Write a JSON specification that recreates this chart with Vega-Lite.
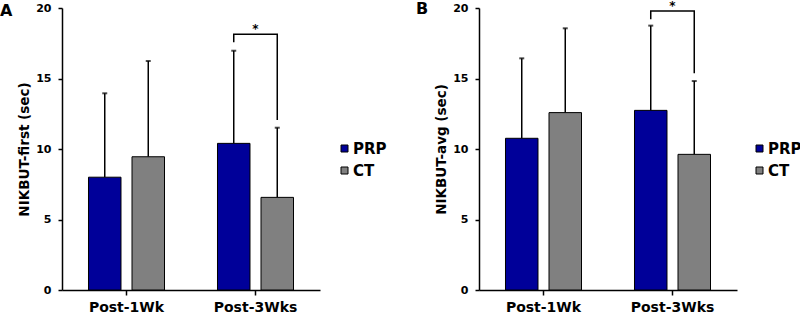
{
  "$schema": "https://vega.github.io/schema/vega-lite/v6.json",
  "autosize": {"type": "pad"},
  "padding": {"top": -1, "left": 0, "right": 0, "bottom": 0},
  "background": "white",
  "config": {
    "font": "DejaVu Sans",
    "view": {"stroke": null},
    "axis": {
      "domainColor": "black",
      "domainWidth": 1.5,
      "tickColor": "black",
      "tickWidth": 1.5,
      "tickSize": 4,
      "labelColor": "black",
      "labelFont": "DejaVu Sans",
      "labelFontWeight": "bold",
      "titleColor": "black",
      "titleFont": "DejaVu Sans",
      "titleFontWeight": "bold",
      "grid": false
    },
    "legend": {
      "labelFont": "DejaVu Sans",
      "labelFontWeight": "bold",
      "labelFontSize": 15,
      "labelColor": "black",
      "symbolType": "square",
      "symbolSize": 49,
      "symbolStrokeColor": "black",
      "symbolStrokeWidth": 1,
      "labelOffset": 1,
      "rowPadding": 6,
      "padding": 0
    },
    "title": {
      "font": "DejaVu Sans",
      "fontWeight": "bold",
      "fontSize": 16,
      "color": "black"
    }
  },
  "datasets": {
    "bars": [
      {"panel": "A", "time": "Post-1Wk", "group": "PRP", "mean": 8.0, "upper": 13.95},
      {"panel": "A", "time": "Post-1Wk", "group": "CT", "mean": 9.45, "upper": 16.24},
      {"panel": "A", "time": "Post-3Wks", "group": "PRP", "mean": 10.4, "upper": 16.97},
      {"panel": "A", "time": "Post-3Wks", "group": "CT", "mean": 6.57, "upper": 11.51},
      {"panel": "B", "time": "Post-1Wk", "group": "PRP", "mean": 10.76, "upper": 16.43},
      {"panel": "B", "time": "Post-1Wk", "group": "CT", "mean": 12.58, "upper": 18.56},
      {"panel": "B", "time": "Post-3Wks", "group": "PRP", "mean": 12.74, "upper": 18.75},
      {"panel": "B", "time": "Post-3Wks", "group": "CT", "mean": 9.62, "upper": 14.82}
    ],
    "bracket": [
      {"panel": "A", "time": "Post-3Wks", "group": "PRP", "y": 17.57, "step": 1},
      {"panel": "A", "time": "Post-3Wks", "group": "PRP", "y": 18.13, "step": 2},
      {"panel": "A", "time": "Post-3Wks", "group": "CT", "y": 18.13, "step": 3},
      {"panel": "A", "time": "Post-3Wks", "group": "CT", "y": 12.06, "step": 4},
      {"panel": "B", "time": "Post-3Wks", "group": "PRP", "y": 19.2, "step": 1},
      {"panel": "B", "time": "Post-3Wks", "group": "PRP", "y": 19.79, "step": 2},
      {"panel": "B", "time": "Post-3Wks", "group": "CT", "y": 19.79, "step": 3},
      {"panel": "B", "time": "Post-3Wks", "group": "CT", "y": 15.37, "step": 4}
    ],
    "stars": [
      {"panel": "A", "time": "Post-3Wks", "y": 18.13, "label": "*"},
      {"panel": "B", "time": "Post-3Wks", "y": 19.79, "label": "*"}
    ]
  },
  "spacing": 159,
  "bounds": "flush",
  "resolve": {"legend": {"fill": "independent"}},
  "hconcat": [
    {
      "width": 258,
      "height": 282,
      "title": {"text": "A", "anchor": "start", "frame": "group", "dx": -62, "offset": -30, "baseline": "alphabetic"},
      "layer": [
        {
          "data": {"name": "bars"},
          "transform": [{"filter": "datum.panel === 'A'"}],
          "mark": {"type": "rule", "color": "black", "strokeWidth": 1.5},
          "encoding": {
            "x": {"field": "time", "type": "nominal", "sort": ["Post-1Wk", "Post-3Wks"]},
            "xOffset": {"field": "group", "type": "nominal", "sort": ["PRP", "CT"]},
            "y": {"field": "mean", "type": "quantitative"},
            "y2": {"field": "upper"}
          }
        },
        {
          "data": {"name": "bars"},
          "transform": [{"filter": "datum.panel === 'A'"}],
          "mark": {"type": "tick", "color": "black", "size": 5, "thickness": 2},
          "encoding": {
            "x": {"field": "time", "type": "nominal", "sort": ["Post-1Wk", "Post-3Wks"]},
            "xOffset": {"field": "group", "type": "nominal", "sort": ["PRP", "CT"]},
            "y": {"field": "upper", "type": "quantitative"}
          }
        },
        {
          "data": {"name": "bars"},
          "transform": [{"filter": "datum.panel === 'A'"}],
          "mark": {"type": "bar", "stroke": "black", "strokeWidth": 1},
          "encoding": {
            "x": {"field": "time", "type": "nominal", "sort": ["Post-1Wk", "Post-3Wks"],
                  "scale": {"paddingInner": 0, "paddingOuter": 0},
                  "axis": {"title": null, "labelAngle": 0, "labelAlign": "center", "labelBaseline": "top",
                           "labelFontSize": 14, "labelPadding": 5, "tickSize": 5}},
            "xOffset": {"field": "group", "type": "nominal", "sort": ["PRP", "CT"],
                        "scale": {"domain": ["PRP", "CT"], "paddingInner": 0.253, "paddingOuter": 0.609}},
            "y": {"field": "mean", "type": "quantitative",
                  "scale": {"domain": [0, 20], "nice": false},
                  "axis": {"title": "NIKBUT-first (sec)", "titleFontSize": 13.5, "values": [0, 5, 10, 15, 20],
                           "labelFontSize": 11, "labelPadding": 7,
                           "titleX": -34, "titleY": 141, "titleBaseline": "alphabetic"}},
            "fill": {"field": "group", "type": "nominal", "sort": ["PRP", "CT"],
                     "scale": {"domain": ["PRP", "CT"], "range": ["#000099", "#808080"]},
                     "legend": {"title": null, "orient": "none", "legendX": 275, "legendY": 133}}
          }
        },
        {
          "data": {"name": "bracket"},
          "transform": [{"filter": "datum.panel === 'A'"}],
          "mark": {"type": "line", "color": "black", "strokeWidth": 1.5},
          "encoding": {
            "x": {"field": "time", "type": "nominal", "sort": ["Post-1Wk", "Post-3Wks"]},
            "xOffset": {"field": "group", "type": "nominal", "sort": ["PRP", "CT"]},
            "y": {"field": "y", "type": "quantitative"},
            "order": {"field": "step", "type": "quantitative"}
          }
        },
        {
          "data": {"name": "stars"},
          "transform": [{"filter": "datum.panel === 'A'"}],
          "mark": {"type": "text", "fontSize": 12, "fontWeight": "bold", "baseline": "alphabetic", "dy": -1, "color": "black"},
          "encoding": {
            "x": {"field": "time", "type": "nominal", "sort": ["Post-1Wk", "Post-3Wks"]},
            "y": {"field": "y", "type": "quantitative"},
            "text": {"field": "label"}
          }
        }
      ]
    },
    {
      "width": 258,
      "height": 282,
      "title": {"text": "B", "anchor": "start", "frame": "group", "dx": -63, "offset": -30, "baseline": "alphabetic"},
      "layer": [
        {
          "data": {"name": "bars"},
          "transform": [{"filter": "datum.panel === 'B'"}],
          "mark": {"type": "rule", "color": "black", "strokeWidth": 1.5},
          "encoding": {
            "x": {"field": "time", "type": "nominal", "sort": ["Post-1Wk", "Post-3Wks"]},
            "xOffset": {"field": "group", "type": "nominal", "sort": ["PRP", "CT"]},
            "y": {"field": "mean", "type": "quantitative"},
            "y2": {"field": "upper"}
          }
        },
        {
          "data": {"name": "bars"},
          "transform": [{"filter": "datum.panel === 'B'"}],
          "mark": {"type": "tick", "color": "black", "size": 5, "thickness": 2},
          "encoding": {
            "x": {"field": "time", "type": "nominal", "sort": ["Post-1Wk", "Post-3Wks"]},
            "xOffset": {"field": "group", "type": "nominal", "sort": ["PRP", "CT"]},
            "y": {"field": "upper", "type": "quantitative"}
          }
        },
        {
          "data": {"name": "bars"},
          "transform": [{"filter": "datum.panel === 'B'"}],
          "mark": {"type": "bar", "stroke": "black", "strokeWidth": 1},
          "encoding": {
            "x": {"field": "time", "type": "nominal", "sort": ["Post-1Wk", "Post-3Wks"],
                  "scale": {"paddingInner": 0, "paddingOuter": 0},
                  "axis": {"title": null, "labelAngle": 0, "labelAlign": "center", "labelBaseline": "top",
                           "labelFontSize": 14, "labelPadding": 5, "tickSize": 5}},
            "xOffset": {"field": "group", "type": "nominal", "sort": ["PRP", "CT"],
                        "scale": {"domain": ["PRP", "CT"], "paddingInner": 0.253, "paddingOuter": 0.609}},
            "y": {"field": "mean", "type": "quantitative",
                  "scale": {"domain": [0, 20], "nice": false},
                  "axis": {"title": "NIKBUT-avg (sec)", "titleFontSize": 13.5, "values": [0, 5, 10, 15, 20],
                           "labelFontSize": 11, "labelPadding": 7,
                           "titleX": -34, "titleY": 141, "titleBaseline": "alphabetic"}},
            "fill": {"field": "group", "type": "nominal", "sort": ["PRP", "CT"],
                     "scale": {"domain": ["PRP", "CT"], "range": ["#000099", "#808080"]},
                     "legend": {"title": null, "orient": "none", "legendX": 273, "legendY": 133}}
          }
        },
        {
          "data": {"name": "bracket"},
          "transform": [{"filter": "datum.panel === 'B'"}],
          "mark": {"type": "line", "color": "black", "strokeWidth": 1.5},
          "encoding": {
            "x": {"field": "time", "type": "nominal", "sort": ["Post-1Wk", "Post-3Wks"]},
            "xOffset": {"field": "group", "type": "nominal", "sort": ["PRP", "CT"]},
            "y": {"field": "y", "type": "quantitative"},
            "order": {"field": "step", "type": "quantitative"}
          }
        },
        {
          "data": {"name": "stars"},
          "transform": [{"filter": "datum.panel === 'B'"}],
          "mark": {"type": "text", "fontSize": 12, "fontWeight": "bold", "baseline": "alphabetic", "dy": -1, "color": "black"},
          "encoding": {
            "x": {"field": "time", "type": "nominal", "sort": ["Post-1Wk", "Post-3Wks"]},
            "y": {"field": "y", "type": "quantitative"},
            "text": {"field": "label"}
          }
        }
      ]
    }
  ]
}
